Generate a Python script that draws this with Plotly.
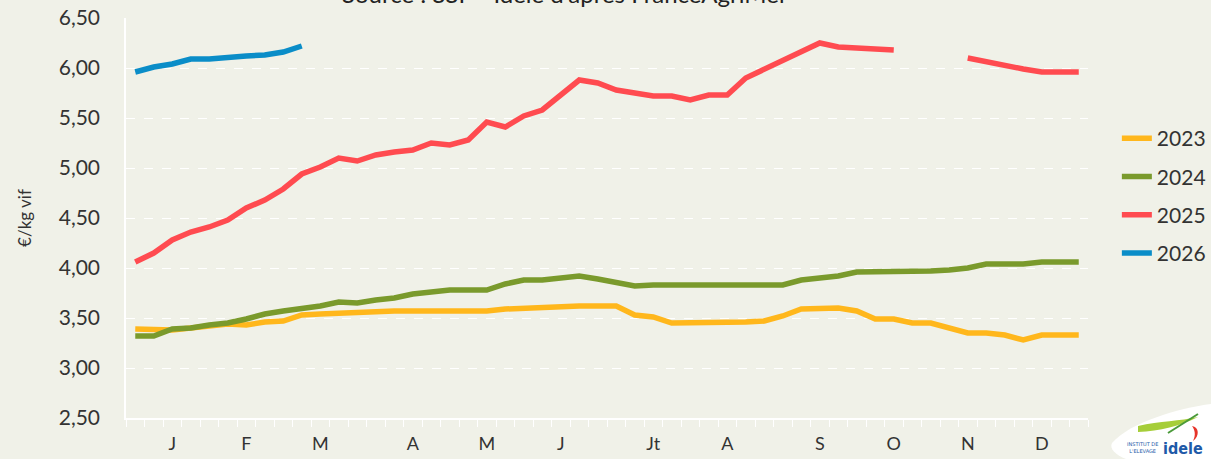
import plotly.graph_objects as go

weeks = list(range(1, 53))
month_pos = [3, 7, 11, 16, 20, 24, 29, 33, 38, 42, 46, 50]
month_labels = ["J", "F", "M", "A", "M", "J", "Jt", "A", "S", "O", "N", "D"]
y_ticks = [2.5, 3.0, 3.5, 4.0, 4.5, 5.0, 5.5, 6.0, 6.5]

s2023 = [3.39, 3.39, 3.38, 3.40, 3.42, 3.44, 3.43, 3.46, 3.47, 3.53,
         3.54, 3.55, 3.56, 3.57, 3.57, 3.57, 3.57, 3.57, 3.57, 3.57,
         3.59, 3.60, 3.61, 3.62, 3.62, 3.62, 3.62, 3.53, 3.51, 3.45,
         3.45, 3.45, 3.45, 3.46, 3.47, 3.52, 3.59, 3.60, 3.60, 3.57,
         3.49, 3.49, 3.45, 3.45, 3.40, 3.35, 3.35, 3.33, 3.28, 3.33,
         3.33, 3.33]
s2024 = [3.32, 3.32, 3.39, 3.40, 3.43, 3.45, 3.49, 3.54, 3.57, 3.59,
         3.62, 3.66, 3.65, 3.68, 3.70, 3.74, 3.76, 3.78, 3.78, 3.78,
         3.84, 3.88, 3.88, 3.90, 3.92, 3.89, 3.86, 3.82, 3.83, 3.83,
         3.83, 3.83, 3.83, 3.82, 3.83, 3.83, 3.88, 3.90, 3.92, 3.96,
         3.96, 3.97, 3.97, 3.97, 3.98, 4.00, 4.04, 4.04, 4.04, 4.06,
         4.06, 4.06]
s2025 = [4.06, 4.15, 4.28, 4.36, 4.41, 4.48, 4.60, 4.68, 4.79, 4.94,
         5.01, 5.10, 5.07, 5.13, 5.16, 5.18, 5.25, 5.23, 5.28, 5.46,
         5.41, 5.52, 5.58, 5.73, 5.88, 5.85, 5.78, 5.75, 5.72, 5.72,
         5.68, 5.73, 5.73, 5.90, 5.99, 6.07, 6.16, 6.25, 6.21, 6.20,
         6.20, 6.18, None, None, None, 6.10, 6.06, 6.02, 5.99, 5.96,
         5.96, 5.96]
s2026 = [5.96, 6.01, 6.04, 6.09, 6.09, 6.11, 6.12, 6.13, 6.16, 6.22]

series = [("2023", s2023, "#FFB71C"), ("2024", s2024, "#7A9A2C"),
          ("2025", s2025, "#FF4B50"), ("2026", s2026, "#0A8DC8")]

BG = "#F0F1E8"
FONT = "Lato"
fig = go.Figure()
for name, vals, col in series:
    fig.add_trace(go.Scatter(x=weeks[:len(vals)], y=vals, name=name, mode="lines",
                             line=dict(color=col, width=5.5), connectgaps=False,
                             legendgroup=name))

fig.update_layout(
    width=1211, height=459,
    margin=dict(l=126, r=123, t=18, b=41, autoexpand=False),
    paper_bgcolor=BG, plot_bgcolor=BG,
    separators=", ",
    font=dict(family=FONT, color="#333333"),
    showlegend=True,
    legend=dict(x=1.030, y=0.750, xanchor="left", yanchor="top",
                font=dict(size=21, color="#333333", family=FONT),
                tracegroupgap=8, bgcolor="rgba(0,0,0,0)"),
    xaxis=dict(range=[0.5, 52.5], tickvals=month_pos, ticktext=month_labels,
               ticks="", showgrid=False, zeroline=False, automargin=False,
               showline=True, linecolor="white", linewidth=1.5,
               tickfont=dict(size=18, color="#333333", family=FONT),
               ticklabelstandoff=9,
               minor=dict(tickvals=[w + 0.5 for w in range(0, 53)], ticks="outside",
                          ticklen=7, tickcolor="white", tickwidth=1, showgrid=False)),
    yaxis=dict(range=[2.5, 6.5], tickvals=y_ticks, tickformat=".2f",
               showgrid=True, gridcolor="white", griddash="dash", gridwidth=1,
               zeroline=False, showline=True, linecolor="white", linewidth=1.5,
               ticks="", ticklabelstandoff=20, automargin=False,
               tickfont=dict(size=21, color="#333333", family=FONT),
               title=dict(text="€/kg vif", font=dict(size=17, color="#333333", family=FONT),
                          standoff=23)),
)

fig.add_annotation(text="Source : SSP - Idele d'après FranceAgriMer", xref="paper", yref="paper",
                   x=(565 - 126) / 962, y=(418 + 6) / 400, xanchor="center", yanchor="middle",
                   showarrow=False, font=dict(size=24, color="#222222", family=FONT))

# logo (approximation)
def px(x):
    return (x - 126) / 962

def py(y):
    return (418 - y) / 400

logo_path = (f"M {px(1112)},{py(443)} C {px(1130)},{py(422)} {px(1180)},{py(408)} {px(1211)},{py(404)} "
             f"L {px(1211)},{py(459)} L {px(1126)},{py(459)} C {px(1116)},{py(455)} {px(1109)},{py(449)} {px(1112)},{py(443)} Z")
fig.add_shape(type="path", path=logo_path, xref="paper", yref="paper",
              fillcolor="white", line=dict(width=0), layer="above")
swoosh = (f"M {px(1138)},{py(426)} C {px(1160)},{py(421)} {px(1180)},{py(421)} {px(1198)},{py(417)} "
          f"C {px(1180)},{py(426)} {px(1160)},{py(431)} {px(1138)},{py(432)} Z")
fig.add_shape(type="path", path=swoosh, xref="paper", yref="paper",
              fillcolor="#A6CE39", line=dict(width=0), layer="above")
fig.add_shape(type="line", xref="paper", yref="paper", x0=px(1168), y0=py(433), x1=px(1198), y1=py(414),
              line=dict(color="#4A9A3A", width=2), layer="above")
fig.add_shape(type="path", xref="paper", yref="paper",
              path=(f"M {px(1192)},{py(426)} C {px(1199)},{py(427)} {px(1200)},{py(436)} {px(1193)},{py(441)} "
                    f"C {px(1196)},{py(435)} {px(1195)},{py(430)} {px(1192)},{py(426)} Z"),
              fillcolor="#E63329", line=dict(width=0), layer="above")
fig.add_annotation(text="<b>idele</b>", xref="paper", yref="paper", x=px(1205), y=py(448),
                   xanchor="right", yanchor="middle", showarrow=False,
                   font=dict(size=16, color="#1E5AA8", family="DejaVu Sans Condensed"))
fig.add_annotation(text="INSTITUT DE<br>L'ELEVAGE", xref="paper", yref="paper", x=px(1160), y=py(447),
                   xanchor="right", yanchor="middle", showarrow=False,
                   font=dict(size=5, color="#1E5AA8", family="DejaVu Sans"))

fig.write_html("out.html", config={"displayModeBar": False},
               post_script="document.body.style.margin='0';document.body.style.padding='0';"
                           "document.body.style.overflow='hidden';")
